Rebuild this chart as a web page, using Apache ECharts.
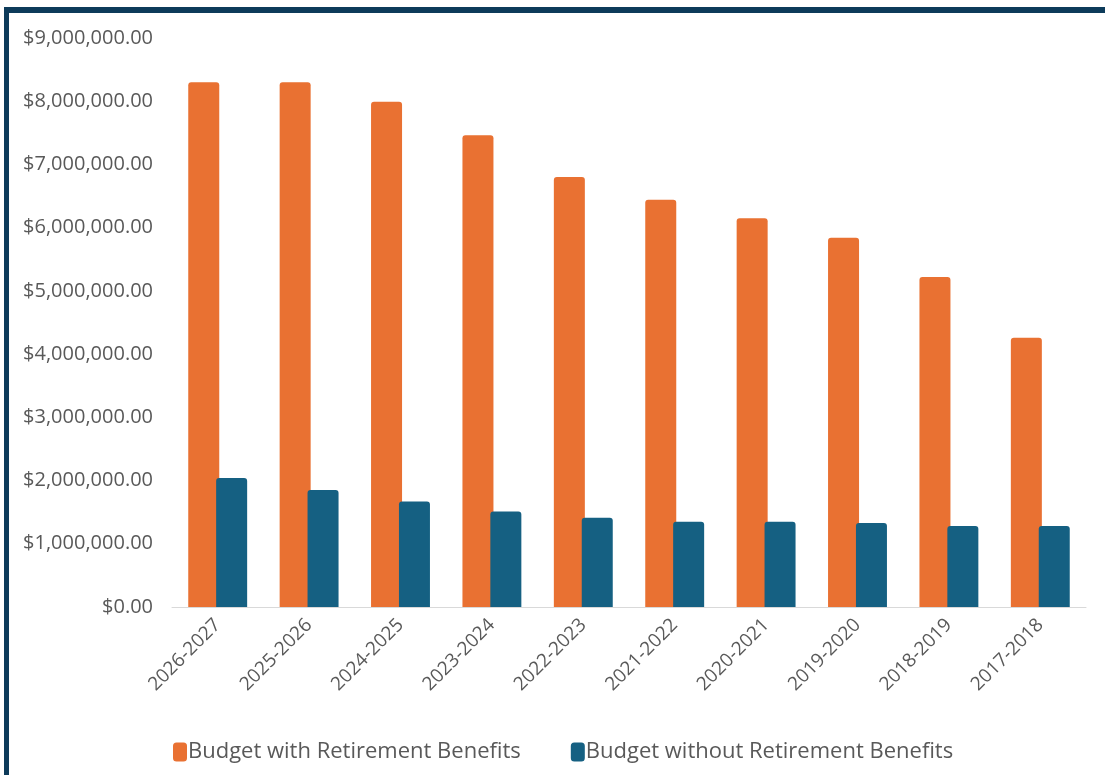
<!DOCTYPE html>
<html>
<head>
<meta charset="utf-8">
<style>
  html, body { margin: 0; padding: 0; background: #ffffff; }
  #chart { width: 1105px; height: 775px; }
</style>
<script src="https://cdn.jsdelivr.net/npm/echarts@6/dist/echarts.min.js"></script>
</head>
<body>
<div id="chart"></div>
<script>
const categories = ['2026-2027', '2025-2026', '2024-2025', '2023-2024', '2022-2023', '2021-2022', '2020-2021', '2019-2020', '2018-2019', '2017-2018'];
const withRetirement = [8300000, 8300000, 7990000, 7460000, 6800000, 6440000, 6150000, 5840000, 5220000, 4260000];
const withoutRetirement = [2040000, 1850000, 1670000, 1510000, 1410000, 1350000, 1350000, 1330000, 1280000, 1280000];
const seriesNames = ['Budget with Retirement Benefits', 'Budget without Retirement Benefits'];
const yTicks = { min: 0, max: 9000000, interval: 1000000 };

const fontFamily = '"Open Sans", "Noto Sans", sans-serif';
const chart = echarts.init(document.getElementById('chart'), null, { renderer: 'canvas' });

function money(v) {
  return '$' + Number(v).toLocaleString('en-US', { minimumFractionDigits: 2, maximumFractionDigits: 2 });
}

chart.setOption({
  animation: false,
  backgroundColor: '#ffffff',
  textStyle: { fontFamily: fontFamily },
  graphic: [
    { type: 'rect', shape: { x: 4, y: 7, width: 1101, height: 6 }, style: { fill: '#0d3b5a' }, silent: true },
    { type: 'rect', shape: { x: 4, y: 7, width: 5, height: 768 }, style: { fill: '#0d3b5a' }, silent: true }
  ],
  grid: { left: 172, right: 19, top: 38, bottom: 168, containLabel: false },
  legend: {
    left: 168,
    top: 736,
    itemWidth: 14,
    itemHeight: 19,
    itemGap: 50,
    icon: 'roundRect',
    textStyle: { fontSize: 22, color: '#595959', fontFamily: fontFamily, padding: [0, 0, 0, -4] },
    data: seriesNames
  },
  xAxis: {
    type: 'category',
    data: categories,
    axisLine: { show: true, lineStyle: { color: '#d9d9d9', width: 1 } },
    axisTick: { show: false },
    axisLabel: { rotate: 45, fontSize: 19, color: '#595959', margin: 15, interval: 0, fontFamily: fontFamily }
  },
  yAxis: {
    type: 'value',
    min: yTicks.min,
    max: yTicks.max,
    interval: yTicks.interval,
    axisLine: { show: false },
    axisTick: { show: false },
    splitLine: { show: false },
    axisLabel: { fontSize: 20, color: '#595959', margin: 19, formatter: money, fontFamily: fontFamily }
  },
  series: [
    {
      name: seriesNames[0],
      type: 'bar',
      data: withRetirement,
      barWidth: 31,
      barGap: '-10%',
      itemStyle: { color: '#E97132', borderRadius: [3, 3, 0, 0] }
    },
    {
      name: seriesNames[1],
      type: 'bar',
      data: withoutRetirement,
      barWidth: 31,
      itemStyle: { color: '#156082', borderRadius: [3, 3, 0, 0] }
    }
  ]
});
</script>
</body>
</html>
